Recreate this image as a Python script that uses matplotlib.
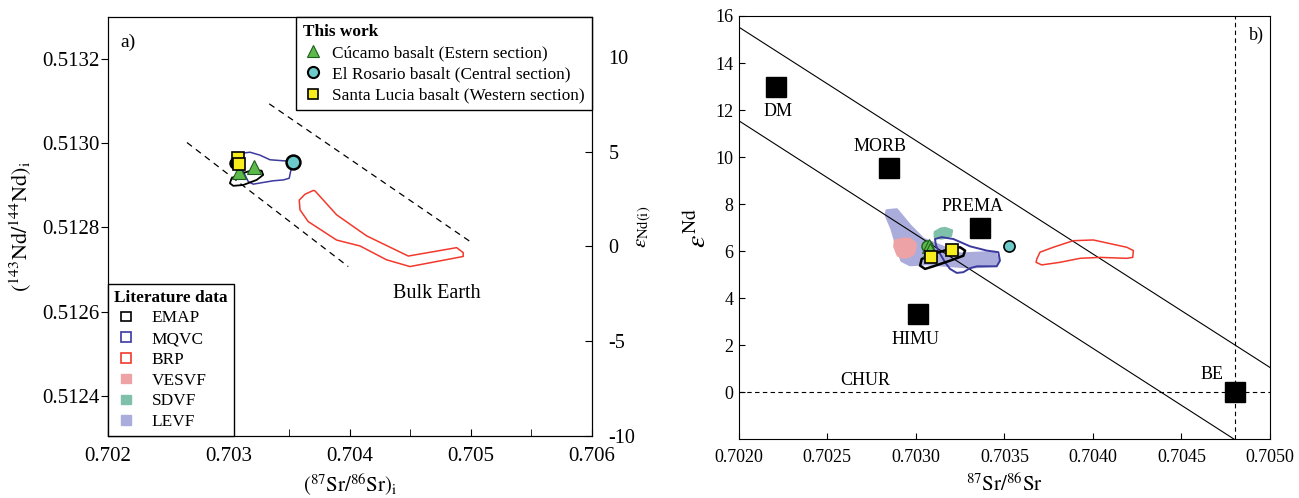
import matplotlib
matplotlib.use("Agg")
import matplotlib.pyplot as plt
from matplotlib.legend_handler import HandlerPatch
from matplotlib.lines import Line2D
from matplotlib.patches import Patch, Polygon, Rectangle
from matplotlib.ticker import FormatStrFormatter

plt.rcParams["font.family"] = ["Liberation Serif", "DejaVu Serif"]
plt.rcParams["mathtext.fontset"] = "stix"
plt.rcParams["axes.unicode_minus"] = False

# --- colores ---
VERDE = "#5cb94a"
CIAN = "#6ccaca"
AMARILLO = "#f7ec1c"
AZUL = "#3b3a9e"
ROJO = "#f2392c"
LEVF_C = "#aaaddb"
VESVF_C = "#eda3a6"
SDVF_C = "#7fc0ab"

# --- panel a: (87Sr/86Sr)i vs (143Nd/144Nd)i ---
a_cucamo_sr = [0.703086, 0.703207]
a_cucamo_nd = [0.512933, 0.512943]
a_rosario_sr = [0.703526]
a_rosario_nd = [0.512956]
a_lucia_sr = [0.703077, 0.703086]
a_lucia_nd = [0.512965, 0.512951]
a_negro_sr = [0.703050]
a_negro_nd = [0.512953]

a_brp_sr = [0.703711, 0.703890, 0.704138, 0.704482, 0.704882, 0.704936,
            0.704936, 0.704496, 0.704303, 0.704083, 0.703890, 0.703655,
            0.703587, 0.703581, 0.703628, 0.703697]
a_brp_nd = [0.512887, 0.512830, 0.512780, 0.512732, 0.512752, 0.512740,
            0.512731, 0.512707, 0.512723, 0.512756, 0.512770, 0.512814,
            0.512842, 0.512865, 0.512879, 0.512888]
a_mqvc_sr = [0.703091, 0.703174, 0.703256, 0.703339, 0.703477, 0.703518,
             0.703498, 0.703449, 0.703366, 0.703283, 0.703201, 0.703160,
             0.703132, 0.703105, 0.703077]
a_mqvc_nd = [0.512976, 0.512979, 0.512972, 0.512961, 0.512958, 0.512945,
             0.512917, 0.512913, 0.512911, 0.512907, 0.512903, 0.512909,
             0.512925, 0.512945, 0.512965]
a_emap_sr = [0.703022, 0.703091, 0.703201, 0.703270, 0.703283, 0.703229,
             0.703118, 0.703036, 0.703008]
a_emap_nd = [0.512917, 0.512927, 0.512937, 0.512935, 0.512925, 0.512913,
             0.512901, 0.512899, 0.512905]

# limites del arreglo del manto (lineas discontinuas)
a_sup_sr = [0.703333, 0.705006]
a_sup_nd = [0.513094, 0.512764]
a_inf_sr = [0.702653, 0.703986]
a_inf_nd = [0.513002, 0.512707]

# --- panel b: 87Sr/86Sr vs eNd ---
reservorios = ["DM", "MORB", "PREMA", "HIMU", "BE"]
res_sr = [0.70221, 0.70285, 0.70336, 0.70301, 0.70480]
res_end = [13.0, 9.55, 7.0, 3.35, 0.0]
etiq_sr = [0.70222, 0.70280, 0.70332, 0.70300, 0.70467]
etiq_end = [11.95, 10.45, 7.9, 2.25, 0.75]

b_cucamo_sr = [0.703075, 0.703080]
b_cucamo_end = [6.24, 6.06]
b_rosario_sr = [0.703526]
b_rosario_end = [6.21]
b_lucia_sr = [0.703086, 0.703206]
b_lucia_end = [5.74, 6.06]
b_verde_sr = [0.703061]
b_verde_end = [6.24]

b_levf_sr = [0.702836, 0.702892, 0.702967, 0.703042, 0.703250, 0.703447,
             0.703466, 0.703447, 0.703306, 0.703062, 0.702967, 0.702920,
             0.702892, 0.702864, 0.702832]
b_levf_end = [7.73, 7.77, 7.09, 6.52, 5.89, 5.96, 5.60, 5.39, 5.32, 5.46,
              5.42, 5.60, 6.24, 6.95, 7.52]
b_vesvf_sr = [0.702883, 0.702930, 0.702967, 0.702995, 0.702998, 0.702986,
              0.702955, 0.702929, 0.702900, 0.702892, 0.702880]
b_vesvf_end = [6.45, 6.52, 6.52, 6.35, 6.20, 5.89, 5.76, 5.74, 5.82, 5.96,
               6.20]
b_sdvf_sr = [0.703108, 0.703140, 0.703165, 0.703203, 0.703197, 0.703146,
             0.703108]
b_sdvf_end = [6.81, 6.95, 6.98, 6.88, 6.66, 6.55, 6.60]
b_mqvc_sr = [0.703108, 0.703146, 0.703212, 0.703306, 0.703400, 0.703466,
             0.703475, 0.703457, 0.703344, 0.703306, 0.703268, 0.703231,
             0.703193, 0.703165, 0.703137, 0.703114]
b_mqvc_end = [6.52, 6.60, 6.52, 6.21, 6.03, 5.96, 5.60, 5.36, 5.36, 5.28,
              5.11, 5.08, 5.25, 5.53, 5.89, 6.24]
b_emap_sr = [0.703033, 0.703099, 0.703193, 0.703250, 0.703278, 0.703268,
             0.703193, 0.703099, 0.703052, 0.703024]
b_emap_end = [5.67, 5.89, 6.10, 6.17, 6.03, 5.81, 5.60, 5.36, 5.25, 5.39]
b_brp_sr = [0.703683, 0.703701, 0.703776, 0.703889, 0.704002, 0.704191,
            0.704228, 0.704225, 0.704191, 0.704040, 0.703927, 0.703814,
            0.703711, 0.703679]
b_brp_end = [5.67, 5.96, 6.17, 6.45, 6.48, 6.17, 6.03, 5.74, 5.70, 5.74,
             5.70, 5.53, 5.42, 5.53]

# arreglo del manto
b_sup_sr = [0.7020, 0.7050]
b_sup_end = [15.53, 1.06]
b_inf_sr = [0.7020, 0.7048]
b_inf_end = [11.55, -2.0]


def campo(ax, xs, ys, relleno=None, borde=None, lw=1.0):
    """Dibuja un campo de literatura como poligono cerrado."""
    if relleno is not None:
        p = Polygon(list(zip(xs, ys)), closed=True, facecolor=relleno,
                    edgecolor=relleno, lw=2.0, joinstyle="round", zorder=1)
    else:
        p = Polygon(list(zip(xs, ys)), closed=True, facecolor="none",
                    edgecolor=borde, lw=lw, joinstyle="round", zorder=2)
    ax.add_patch(p)


def cuadrito(legend, orig_handle, xdescent, ydescent, width, height,
             fontsize):
    # cuadro pequeno centrado dentro del espacio del simbolo
    lado = 0.55 * fontsize
    return Rectangle((width / 2 - lado / 2 - xdescent,
                      height / 2 - lado / 2 - ydescent), lado, lado)


fig = plt.figure(figsize=(12.99, 4.98), dpi=100)

# ================= panel a =================
ax1 = fig.add_axes([0.0831, 0.1245, 0.3726, 0.8414])
ax1.set_xlim(0.702, 0.706)
ax1.set_ylim(0.512304, 0.5133006)

ax1.plot(a_sup_sr, a_sup_nd, color="black", lw=0.9, ls=(0, (5, 4)))
ax1.plot(a_inf_sr, a_inf_nd, color="black", lw=0.9, ls=(0, (5, 4)))
campo(ax1, a_brp_sr, a_brp_nd, borde=ROJO, lw=1.1)
campo(ax1, a_mqvc_sr, a_mqvc_nd, borde=AZUL, lw=1.1)
campo(ax1, a_emap_sr, a_emap_nd, borde="black", lw=1.3)

ax1.plot(a_negro_sr, a_negro_nd, "o", ms=8, color="black", zorder=4)
ax1.plot(a_cucamo_sr, a_cucamo_nd, "^", ms=10, mfc=VERDE, mec="#1f5f1f",
         mew=0.8, ls="none", zorder=4)
ax1.plot(a_lucia_sr, a_lucia_nd, "s", ms=8, mfc=AMARILLO, mec="black",
         mew=1.2, ls="none", zorder=5)
ax1.plot(a_rosario_sr, a_rosario_nd, "o", ms=10, mfc=CIAN, mec="black",
         mew=1.8, ls="none", zorder=5)

ax1.text(0.026, 0.94, "a)", transform=ax1.transAxes, fontsize=14,
         ha="left", va="center")
ax1.text(0.704719, 0.512642, "Bulk Earth", fontsize=14.5, ha="center",
         va="center")

ax1.set_xticks([0.702, 0.703, 0.704, 0.705, 0.706])
ax1.set_xticks([0.7025, 0.7035, 0.7045, 0.7055], minor=True)
ax1.set_yticks([0.5124, 0.5126, 0.5128, 0.5130, 0.5132])
ax1.xaxis.set_major_formatter(FormatStrFormatter("%.3f"))
ax1.yaxis.set_major_formatter(FormatStrFormatter("%.4f"))
ax1.tick_params(axis="x", which="both", direction="in", length=5, pad=8,
                labelsize=15)
ax1.tick_params(axis="y", direction="out", length=5, pad=1, labelsize=15)
ax1.set_xlabel(r"$(^{87}\mathrm{Sr}/^{86}\mathrm{Sr})_\mathrm{i}$",
               fontsize=15, labelpad=4)
ax1.set_ylabel(r"$(^{143}\mathrm{Nd}/^{144}\mathrm{Nd})_\mathrm{i}$",
               fontsize=16, labelpad=6)

ax1r = ax1.twinx()
ax1r.set_ylim(-10, 12.1)
ax1r.set_yticks([-10, -5, 0, 5, 10])
ax1r.tick_params(axis="y", direction="in", length=5, pad=12, labelsize=14.5)
ax1r.set_ylabel(r"$\varepsilon_{\mathrm{Nd(i)}}$", fontsize=15, labelpad=0)

h_obra = [
    Line2D([], [], marker="^", ls="none", ms=9, mfc=VERDE, mec="#1f5f1f",
           mew=0.8, label="Cúcamo basalt (Estern section)"),
    Line2D([], [], marker="o", ls="none", ms=8, mfc=CIAN, mec="black",
           mew=1.5, label="El Rosario basalt (Central section)"),
    Line2D([], [], marker="s", ls="none", ms=7, mfc=AMARILLO, mec="black",
           mew=1.2, label="Santa Lucia basalt (Western section)"),
]
leg1 = ax1r.legend(handles=h_obra, loc="upper right", title="This work",
                   alignment="left", fancybox=False, edgecolor="black",
                   framealpha=1, borderaxespad=0, fontsize=12.4,
                   title_fontproperties={"weight": "bold", "size": 12.4},
                   handlelength=1.2, handletextpad=0.5, labelspacing=0.3,
                   borderpad=0.4, numpoints=1)
leg1.get_frame().set_linewidth(1.0)
ax1r.add_artist(leg1)

h_lit = [
    Patch(facecolor="white", edgecolor="black", lw=1.2, label="EMAP"),
    Patch(facecolor="white", edgecolor=AZUL, lw=1.2, label="MQVC"),
    Patch(facecolor="white", edgecolor=ROJO, lw=1.2, label="BRP"),
    Patch(facecolor=VESVF_C, edgecolor=VESVF_C, label="VESVF"),
    Patch(facecolor=SDVF_C, edgecolor=SDVF_C, label="SDVF"),
    Patch(facecolor=LEVF_C, edgecolor=LEVF_C, label="LEVF"),
]
leg2 = ax1r.legend(handles=h_lit, loc="lower left", title="Literature data",
                   alignment="left", fancybox=False, edgecolor="black",
                   framealpha=1, borderaxespad=0, fontsize=12.4,
                   title_fontproperties={"weight": "bold", "size": 12.4},
                   handlelength=1.4, handleheight=0.7, handletextpad=0.8,
                   labelspacing=0.27, borderpad=0.35,
                   handler_map={Patch: HandlerPatch(patch_func=cuadrito)})
leg2.get_frame().set_linewidth(1.0)

# ================= panel b =================
ax2 = fig.add_axes([0.5687, 0.1175, 0.4090, 0.8504])
ax2.set_xlim(0.7020, 0.7050)
ax2.set_ylim(-2, 16)

ax2.plot(b_sup_sr, b_sup_end, color="black", lw=0.8)
ax2.plot(b_inf_sr, b_inf_end, color="black", lw=0.8)
ax2.axhline(0, color="black", lw=0.8, ls=(0, (4, 3)))
ax2.axvline(0.7048, color="black", lw=0.8, ls=(0, (4, 3)))

campo(ax2, b_levf_sr, b_levf_end, relleno=LEVF_C)
campo(ax2, b_vesvf_sr, b_vesvf_end, relleno=VESVF_C)
campo(ax2, b_sdvf_sr, b_sdvf_end, relleno=SDVF_C)
campo(ax2, b_mqvc_sr, b_mqvc_end, borde=AZUL, lw=1.4)
campo(ax2, b_emap_sr, b_emap_end, borde="black", lw=1.8)
campo(ax2, b_brp_sr, b_brp_end, borde=ROJO, lw=1.1)

ax2.plot(res_sr, res_end, "s", ms=14, color="black", ls="none", zorder=4)
for nombre, x, y in zip(reservorios, etiq_sr, etiq_end):
    ax2.text(x, y, nombre, fontsize=13, ha="center", va="center")
ax2.text(0.702717, 0.5, "CHUR", fontsize=13, ha="center", va="center")
ax2.text(0.704925, 15.18, "b)", fontsize=13, ha="center", va="center")

ax2.plot(b_verde_sr, b_verde_end, "o", ms=8, mfc=VERDE, mec="#1f5f1f",
         ls="none", zorder=4)
ax2.plot(b_cucamo_sr, b_cucamo_end, "^", ms=10, mfc=VERDE, mec="#1f5f1f",
         mew=0.8, ls="none", zorder=5)
ax2.plot(b_lucia_sr, b_lucia_end, "s", ms=9, mfc=AMARILLO, mec="black",
         mew=1.2, ls="none", zorder=6)
ax2.plot(b_rosario_sr, b_rosario_end, "o", ms=8, mfc=CIAN, mec="black",
         mew=1.2, ls="none", zorder=6)

ax2.set_xticks([0.7020, 0.7025, 0.7030, 0.7035, 0.7040, 0.7045, 0.7050])
ax2.set_yticks([0, 2, 4, 6, 8, 10, 12, 14, 16])
ax2.xaxis.set_major_formatter(FormatStrFormatter("%.4f"))
ax2.tick_params(axis="both", direction="in", length=4, labelsize=13)
ax2.tick_params(axis="x", pad=7)
ax2.tick_params(axis="y", pad=4)
ax2.set_xlabel(r"$^{87}\mathrm{Sr}/^{86}\mathrm{Sr}$", fontsize=15,
               labelpad=5)
ax2.set_ylabel(r"$\varepsilon^{\mathrm{Nd}}$", fontsize=20, labelpad=2)

fig.savefig("out.png", dpi=100)
